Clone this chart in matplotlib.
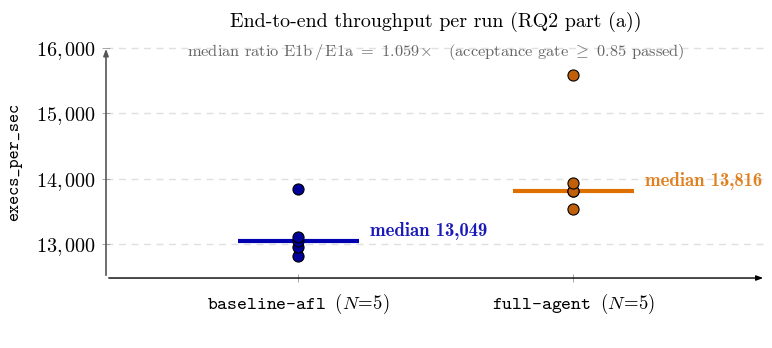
import numpy as np
import matplotlib
matplotlib.use("Agg")
import matplotlib.pyplot as plt

# data
groups = ["baseline-afl", "full-agent"]
n_runs = [5, 5]
baseline_runs = [12810, 12950, 13049, 13105, 13845]
agent_runs = [13530, 13805, 13816, 13940, 15590]
medians = [13049, 13816]
ratio = 1.059
gate = 0.85
yticks = [13000, 14000, 15000, 16000]

plt.rcParams["mathtext.fontset"] = "cm"
plt.rcParams["font.family"] = "cmr10"
plt.rcParams["axes.formatter.use_mathtext"] = True

dot_colors = ["#000099", "#c0600a"]
line_colors = ["#0000b0", "#de7000"]
text_colors = ["#1a1ab8", "#e0801e"]

fig = plt.figure(figsize=(7.72, 3.48), dpi=100)
ax = fig.add_axes([0.1373, 0.2011, 0.8549, 0.6667])

xpos = np.arange(len(groups))
for i, runs in enumerate([baseline_runs, agent_runs]):
    ax.hlines(medians[i], xpos[i] - 0.22, xpos[i] + 0.22, color=line_colors[i], lw=3, zorder=2)
    ax.plot([xpos[i]] * len(runs), runs, "o", ms=8, mfc=dot_colors[i], mec="black", mew=0.8,
            zorder=3, clip_on=False)
    ax.text(xpos[i] + 0.26, medians[i] + 150, "median {:,}".format(medians[i]),
            fontfamily="cmb10", fontsize=13.5, color=text_colors[i], va="center", ha="left")

ax.set_xlim(-0.7, 1.7)
ax.set_ylim(12480, 16030)

ax.set_yticks(yticks)
ax.set_yticklabels(["${:,}$".format(v).replace(",", "{,}\\,") for v in yticks], fontsize=14.5)
ax.set_xticks(xpos)
ax.set_xticklabels([r"{} $(N\!=\!{})$".format(g, n) for g, n in zip(groups, n_runs)],
                   fontfamily="cmtt10", fontsize=13.5)
ax.tick_params(axis="both", direction="inout", length=6, width=0.6, color="#999999", pad=4)
ax.tick_params(axis="x", pad=7)

ax.grid(axis="y", ls=(0, (5, 4)), color="#e0e0e0", lw=1)
ax.set_axisbelow(True)
for s in ax.spines.values():
    s.set_visible(False)

# axis lines with arrowheads
ax.annotate("", xy=(1.0, 0), xytext=(0, 0), xycoords="axes fraction",
            arrowprops=dict(arrowstyle="-|>,head_length=0.4,head_width=0.15", color="black", lw=1))
ax.annotate("", xy=(0, 1.0), xytext=(0, 0), xycoords="axes fraction",
            arrowprops=dict(arrowstyle="-|>,head_length=0.4,head_width=0.15", color="#555555", lw=1.2))

ax.set_ylabel("execs_per_sec", fontfamily="cmtt10", fontsize=12.5, labelpad=10)
ax.set_title("End-to-end throughput per run (RQ2 part (a))", fontsize=14.4, pad=14)

ax.text(0.5, 0.975,
        r"median ratio E1b$\,/\,$E1a $=$ {:.3f}$\times$   (acceptance gate $\geq$ {} passed)".format(ratio, gate),
        transform=ax.transAxes, ha="center", va="center", fontsize=11.8, color="#666666")

fig.savefig("out.png", dpi=100)
